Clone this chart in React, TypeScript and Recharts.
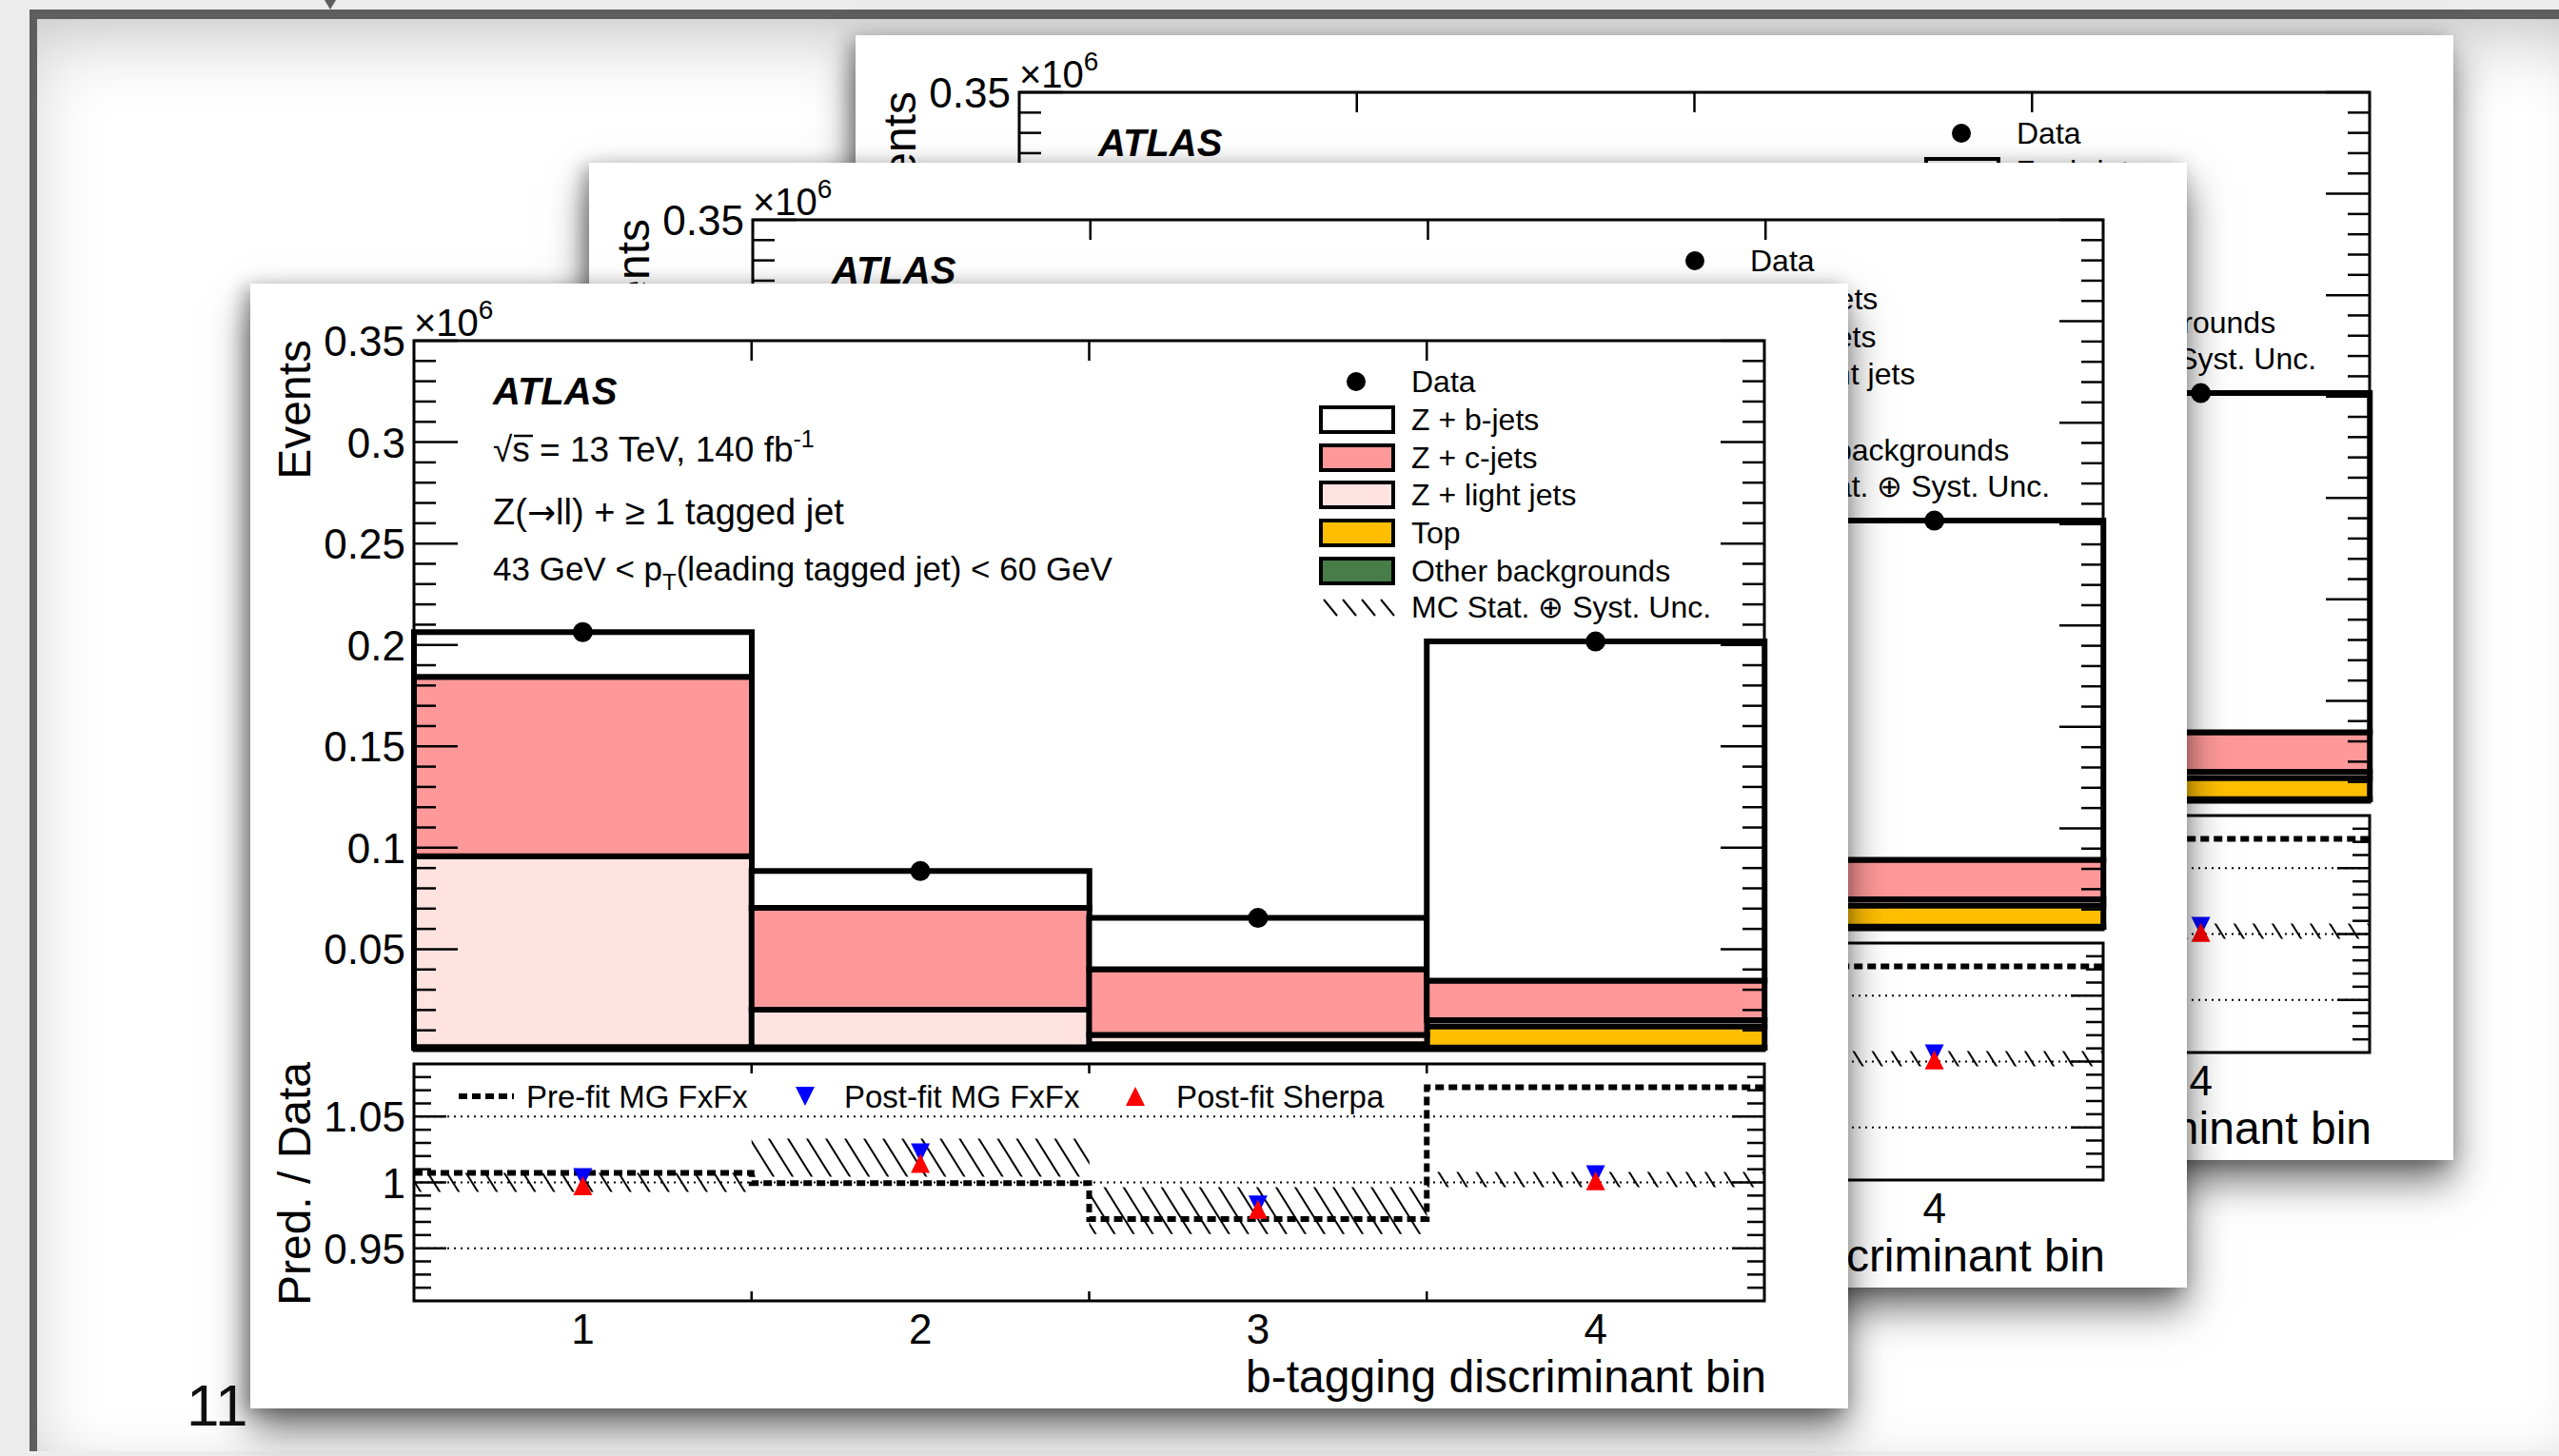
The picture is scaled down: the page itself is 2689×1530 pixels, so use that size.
import React from "react";
import {
  ComposedChart,
  Bar,
  Line,
  Scatter,
  XAxis,
  YAxis,
  ReferenceArea,
  ReferenceLine,
} from "recharts";

// ---- data ----
const bins = ["1", "2", "3", "4"];
const binCentres = [1, 2, 3, 4];
const binEdges = [0.5, 1.5, 2.5, 3.5, 4.5];

// stacked MC, in units of 10^6 events
const otherBkg = [0.0008, 0.0005, 0.0004, 0.0015];
const topBkg = [0.001, 0.0012, 0.0028, 0.0105];
const zLight = [0.094, 0.0185, 0.0045, 0.003];
const zCjets = [0.0885, 0.0502, 0.0324, 0.0195];
const zBjets = [0.022, 0.0181, 0.0253, 0.1672];
const dataEvents = [0.2063, 0.0885, 0.0654, 0.2017];

// ratio panel
const prefitRatio = [1.0072, 0.9994, 0.9722, 1.0722];
const uncLow = [0.9928, 1.0043, 0.9608, 0.9964];
const uncHigh = [1.0072, 1.0333, 0.9964, 1.008];
const postfitMG = [1.0036, 1.0225, 0.9828, 1.0058];
const postfitSherpa = [0.9975, 1.0145, 0.9795, 1.0012];

// axis ticks
const eventTicks = [
  0.01, 0.02, 0.03, 0.04, 0.05, 0.06, 0.07, 0.08, 0.09, 0.1, 0.11, 0.12,
  0.13, 0.14, 0.15, 0.16, 0.17, 0.18, 0.19, 0.2, 0.21, 0.22, 0.23, 0.24,
  0.25, 0.26, 0.27, 0.28, 0.29, 0.3, 0.31, 0.32, 0.33, 0.34, 0.35,
];
const eventLabels = [0.05, 0.1, 0.15, 0.2, 0.25, 0.3, 0.35];
const ratioTicks = [
  0.92, 0.93, 0.94, 0.95, 0.96, 0.97, 0.98, 0.99, 1, 1.01, 1.02, 1.03, 1.04,
  1.05, 1.06, 1.07, 1.08,
];
const ratioLabels = [0.95, 1, 1.05];
const ratioGuides = [0.95, 1, 1.05];
const mainEdgeTicks = [1.5, 2.5, 3.5];
const ratioEdgeTicks = [1, 1.5, 2, 2.5, 3, 3.5, 4];

const legendNames = [
  "Data",
  "Z + b-jets",
  "Z + c-jets",
  "Z + light jets",
  "Top",
  "Other backgrounds",
  "MC Stat. \u2295 Syst. Unc.",
];

const COL = {
  bjets: "#ffffff",
  cjets: "#ff9999",
  light: "#ffe3e0",
  top: "#ffbf00",
  other: "#487c48",
};

// tables for the library
const binRows = bins.map((bin, i) => ({
  bin,
  x: binCentres[i],
  other: otherBkg[i],
  top: topBkg[i],
  light: zLight[i],
  cjets: zCjets[i],
  bjets: zBjets[i],
  unc: [uncLow[i], uncHigh[i]],
}));
const dataRows = binCentres.map((x, i) => ({ x, y: dataEvents[i] }));
const prefitRows = binEdges.map((x, i) => ({
  x,
  y: prefitRatio[Math.min(i, prefitRatio.length - 1)],
}));
const mgRows = binCentres.map((x, i) => ({ x, y: postfitMG[i] }));
const sherpaRows = binCentres.map((x, i) => ({ x, y: postfitSherpa[i] }));

// ---- layout ----
const FONT = '"Liberation Sans", Arial, Helvetica, sans-serif';
const CARD_W = 1679;
const CARD_H = 1182;
const PLOT_L = 172;
const PLOT_R = 1591;
const MAIN_H = 820;
const MAIN_TOP = 60;
const MAIN_BOTTOM = 806;
const RATIO_Y = 800;
const RATIO_H = 400;
const RATIO_TOP = 20;
const RATIO_BOTTOM = 269;

const MainYTick = (props: any) => {
  const { y, payload } = props;
  const v = payload.value;
  const major = eventLabels.includes(v);
  const len = major ? 46 : 23;
  return (
    <g>
      <line x1={PLOT_L} x2={PLOT_L + len} y1={y} y2={y} stroke="#000" strokeWidth={2.5} />
      <line x1={PLOT_R - len} x2={PLOT_R} y1={y} y2={y} stroke="#000" strokeWidth={2.5} />
      {major && (
        <text x={PLOT_L - 9} y={y + 16} textAnchor="end" fontSize={44} fontFamily={FONT} fill="#000">
          {String(v)}
        </text>
      )}
    </g>
  );
};

const MainXTick = (props: any) => {
  const { x } = props;
  return (
    <g>
      <line x1={x} x2={x} y1={MAIN_BOTTOM} y2={MAIN_BOTTOM - 21} stroke="#000" strokeWidth={2.5} />
      <line x1={x} x2={x} y1={MAIN_TOP} y2={MAIN_TOP + 21} stroke="#000" strokeWidth={2.5} />
    </g>
  );
};

const RatioYTick = (props: any) => {
  const { y, payload } = props;
  const v = payload.value;
  const major = ratioLabels.includes(v);
  const len = major ? 34 : 18;
  return (
    <g>
      <line x1={PLOT_L} x2={PLOT_L + len} y1={y} y2={y} stroke="#000" strokeWidth={2.5} />
      <line x1={PLOT_R - len} x2={PLOT_R} y1={y} y2={y} stroke="#000" strokeWidth={2.5} />
      {major && (
        <text x={PLOT_L - 9} y={y + 16} textAnchor="end" fontSize={44} fontFamily={FONT} fill="#000">
          {String(v)}
        </text>
      )}
    </g>
  );
};

const RatioXTick = (props: any) => {
  const { x, payload } = props;
  const v = payload.value;
  if (Number.isInteger(v)) {
    return (
      <text x={x} y={RATIO_BOTTOM + 45} textAnchor="middle" fontSize={44} fontFamily={FONT} fill="#000">
        {String(v)}
      </text>
    );
  }
  return (
    <g>
      <line x1={x} x2={x} y1={RATIO_BOTTOM} y2={RATIO_BOTTOM - 10} stroke="#000" strokeWidth={2.5} />
      <line x1={x} x2={x} y1={RATIO_TOP} y2={RATIO_TOP + 10} stroke="#000" strokeWidth={2.5} />
    </g>
  );
};

const DataDot = (p: any) => <circle cx={p.cx} cy={p.cy} r={10.5} fill="#000" />;
const DownTri = (p: any) => (
  <polygon
    points={`${p.cx - 10},${p.cy - 10} ${p.cx + 10},${p.cy - 10} ${p.cx},${p.cy + 10}`}
    fill="#0000ff"
  />
);
const UpTri = (p: any) => (
  <polygon
    points={`${p.cx - 10},${p.cy + 10} ${p.cx + 10},${p.cy + 10} ${p.cx},${p.cy - 10}`}
    fill="#ff0000"
  />
);

const MainPanel = () => (
  <ComposedChart
    width={CARD_W}
    height={MAIN_H}
    data={binRows}
    margin={{ top: MAIN_TOP, right: CARD_W - PLOT_R, bottom: 0, left: 0 }}
    barCategoryGap={0}
    barGap={0}
  >
    <XAxis xAxisId="bin" dataKey="bin" type="category" hide />
    <XAxis
      xAxisId="edge"
      dataKey="x"
      type="number"
      domain={[0.5, 4.5]}
      allowDataOverflow
      ticks={mainEdgeTicks}
      interval={0}
      height={MAIN_H - MAIN_BOTTOM}
      axisLine={false}
      tickLine={false}
      tick={MainXTick}
    />
    <YAxis
      yAxisId="ev"
      type="number"
      domain={[0, 0.35]}
      allowDataOverflow
      ticks={eventTicks}
      interval={0}
      width={PLOT_L}
      axisLine={false}
      tickLine={false}
      tick={MainYTick}
    />
    <Bar xAxisId="bin" yAxisId="ev" dataKey="other" stackId="mc" fill={COL.other} stroke="#000" strokeWidth={6} isAnimationActive={false} />
    <Bar xAxisId="bin" yAxisId="ev" dataKey="top" stackId="mc" fill={COL.top} stroke="#000" strokeWidth={6} isAnimationActive={false} />
    <Bar xAxisId="bin" yAxisId="ev" dataKey="light" stackId="mc" fill={COL.light} stroke="#000" strokeWidth={6} isAnimationActive={false} />
    <Bar xAxisId="bin" yAxisId="ev" dataKey="cjets" stackId="mc" fill={COL.cjets} stroke="#000" strokeWidth={6} isAnimationActive={false} />
    <Bar xAxisId="bin" yAxisId="ev" dataKey="bjets" stackId="mc" fill={COL.bjets} stroke="#000" strokeWidth={6} isAnimationActive={false} />
    <Scatter xAxisId="edge" yAxisId="ev" data={dataRows} dataKey="y" shape={DataDot} isAnimationActive={false} />
    <ReferenceArea
      xAxisId="edge"
      yAxisId="ev"
      x1={0.5}
      x2={4.5}
      y1={0}
      y2={0.35}
      fill="none"
      fillOpacity={0}
      stroke="#000"
      strokeWidth={3}
      ifOverflow="visible"
    />
  </ComposedChart>
);

const RatioPanel = ({ uid }: { uid: string }) => (
  <ComposedChart
    width={CARD_W}
    height={RATIO_H}
    data={binRows}
    margin={{ top: RATIO_TOP, right: CARD_W - PLOT_R, bottom: 100, left: 0 }}
    barCategoryGap={0}
    barGap={0}
  >
    <defs>
      <pattern
        id={`hatch-${uid}`}
        patternUnits="userSpaceOnUse"
        width={17}
        height={17}
        patternTransform="rotate(-32)"
      >
        <line x1={2} y1={0} x2={2} y2={17} stroke="#000" strokeWidth={2} />
      </pattern>
    </defs>
    <XAxis xAxisId="bin" dataKey="bin" type="category" hide />
    <XAxis
      xAxisId="edge"
      dataKey="x"
      type="number"
      domain={[0.5, 4.5]}
      allowDataOverflow
      ticks={ratioEdgeTicks}
      interval={0}
      height={RATIO_H - 100 - RATIO_BOTTOM}
      axisLine={false}
      tickLine={false}
      tick={RatioXTick}
    />
    <YAxis
      yAxisId="rt"
      type="number"
      domain={[0.91, 1.09]}
      allowDataOverflow
      ticks={ratioTicks}
      interval={0}
      width={PLOT_L}
      axisLine={false}
      tickLine={false}
      tick={RatioYTick}
    />
    {ratioGuides.map((g) => (
      <ReferenceLine
        key={g}
        xAxisId="edge"
        yAxisId="rt"
        y={g}
        stroke="#000"
        strokeWidth={2}
        strokeDasharray="2 5"
      />
    ))}
    <Bar
      xAxisId="bin"
      yAxisId="rt"
      dataKey="unc"
      fill={`url(#hatch-${uid})`}
      stroke="none"
      isAnimationActive={false}
    />
    <Line
      xAxisId="edge"
      yAxisId="rt"
      data={prefitRows}
      dataKey="y"
      type="stepAfter"
      stroke="#000"
      strokeWidth={6}
      strokeDasharray="9 5"
      dot={false}
      isAnimationActive={false}
    />
    <Scatter xAxisId="edge" yAxisId="rt" data={mgRows} dataKey="y" shape={DownTri} isAnimationActive={false} />
    <Scatter xAxisId="edge" yAxisId="rt" data={sherpaRows} dataKey="y" shape={UpTri} isAnimationActive={false} />
    <ReferenceArea
      xAxisId="edge"
      yAxisId="rt"
      x1={0.5}
      x2={4.5}
      y1={0.91}
      y2={1.09}
      fill="none"
      fillOpacity={0}
      stroke="#000"
      strokeWidth={3}
      ifOverflow="visible"
    />
  </ComposedChart>
);

const legendFills = [null, COL.bjets, COL.cjets, COL.light, COL.top, COL.other, null];
const legendRowY = [103, 143, 183, 222, 262, 302, 340];

const Annotations = () => (
  <svg
    width={CARD_W}
    height={CARD_H}
    style={{ position: "absolute", left: 0, top: 0, pointerEvents: "none" }}
    fontFamily={FONT}
  >
    {/* exponent */}
    <text x={PLOT_L} y={55} fontSize={40} fill="#000">
      {"\u00d710"}
      <tspan dy={-18} fontSize={28}>6</tspan>
    </text>
    {/* axis titles */}
    <text transform={`translate(63, ${MAIN_TOP - 1}) rotate(-90)`} textAnchor="end" fontSize={48} fill="#000">
      Events
    </text>
    <text transform="translate(63, 946) rotate(-90)" textAnchor="middle" fontSize={48} fill="#000">
      Pred. / Data
    </text>
    <text x={PLOT_R + 2} y={1165} textAnchor="end" fontSize={48} fill="#000">
      b-tagging discriminant bin
    </text>
    {/* ATLAS label block */}
    <text x={255} y={127} fontSize={40} fontWeight="bold" fontStyle="italic" fill="#000">
      ATLAS
    </text>
    <text x={255} y={187} fontSize={37} fill="#000">
      {"\u221As = 13 TeV, 140 fb"}
      <tspan dy={-15} fontSize={25}>-1</tspan>
    </text>
    <line x1={277} x2={297} y1={160} y2={160} stroke="#000" strokeWidth={2.5} />
    <text x={255} y={253} fontSize={38} fill="#000">
      {"Z("}
      <tspan fontFamily='"DejaVu Sans", sans-serif' fontSize={36}>{"\u2192"}</tspan>
      {"ll) + \u2265 1 tagged jet"}
    </text>
    <text x={255} y={312} fontSize={35} fill="#000">
      {"43 GeV < p"}
      <tspan dy={10} fontSize={24}>T</tspan>
      <tspan dy={-10}>(leading tagged jet) &lt; 60 GeV</tspan>
    </text>
    {/* main legend */}
    {legendNames.map((name, i) => {
      const cy = legendRowY[i];
      const fill = legendFills[i];
      return (
        <g key={name}>
          {i === 0 && <circle cx={1162} cy={cy} r={10} fill="#000" />}
          {fill && (
            <rect x={1125} y={cy - 13} width={76} height={26} fill={fill} stroke="#000" strokeWidth={4} />
          )}
          {i === legendNames.length - 1 &&
            [0, 1, 2, 3].map((k) => (
              <line
                key={k}
                x1={1128 + k * 20}
                y1={cy - 8}
                x2={1142 + k * 20}
                y2={cy + 9}
                stroke="#000"
                strokeWidth={2}
              />
            ))}
          <text x={1220} y={cy + 11} fontSize={32} fill="#000">
            {name}
          </text>
        </g>
      );
    })}
    {/* ratio legend */}
    <line x1={219} x2={277} y1={854} y2={854} stroke="#000" strokeWidth={6} strokeDasharray="9 5" />
    <text x={290} y={866} fontSize={33} fill="#000">Pre-fit MG FxFx</text>
    <polygon points="573,844 593,844 583,864" fill="#0000ff" />
    <text x={624} y={866} fontSize={33} fill="#000">Post-fit MG FxFx</text>
    <polygon points="920,864 940,864 930,844" fill="#ff0000" />
    <text x={973} y={866} fontSize={33} fill="#000">Post-fit Sherpa</text>
  </svg>
);

const PlotCard = ({ left, top, uid }: { left: number; top: number; uid: string }) => (
  <div
    style={{
      position: "absolute",
      left,
      top,
      width: CARD_W,
      height: CARD_H,
      background: "#fff",
      boxShadow: "0 22px 40px rgba(0,0,0,0.55), -6px 4px 18px rgba(0,0,0,0.3)",
    }}
  >
    <div style={{ position: "absolute", left: 0, top: 0 }}>
      <MainPanel />
    </div>
    <div style={{ position: "absolute", left: 0, top: RATIO_Y }}>
      <RatioPanel uid={uid} />
    </div>
    <Annotations />
  </div>
);

const cards = [
  { uid: "back", left: 899, top: 37 },
  { uid: "mid", left: 619, top: 171 },
  { uid: "front", left: 263, top: 298 },
];

export default function App() {
  return (
    <div
      style={{
        position: "fixed",
        left: 0,
        top: 0,
        width: 2689,
        height: 1530,
        overflow: "hidden",
        background: "#ececec",
        fontFamily: FONT,
      }}
    >
      <div
        style={{
          position: "absolute",
          left: 31,
          top: 10,
          width: 2720,
          height: 1505,
          background: "#fff",
          borderTop: "10px solid #5e5e5e",
          borderLeft: "8px solid #5e5e5e",
          boxShadow: "inset 10px 40px 70px -10px rgba(0,0,0,0.16), inset -60px 0 80px -40px rgba(0,0,0,0.25)",
        }}
      />
      <svg
        width={2689}
        height={1530}
        style={{ position: "absolute", left: 0, top: 0 }}
        fontFamily={FONT}
      >
        <polygon points="341,0 353,0 347,10" fill="#5e5e5e" />
        <text x={196} y={1498} fontSize={62} fill="#111">11</text>
      </svg>
      {cards.map((c) => (
        <PlotCard key={c.uid} uid={c.uid} left={c.left} top={c.top} />
      ))}
    </div>
  );
}
